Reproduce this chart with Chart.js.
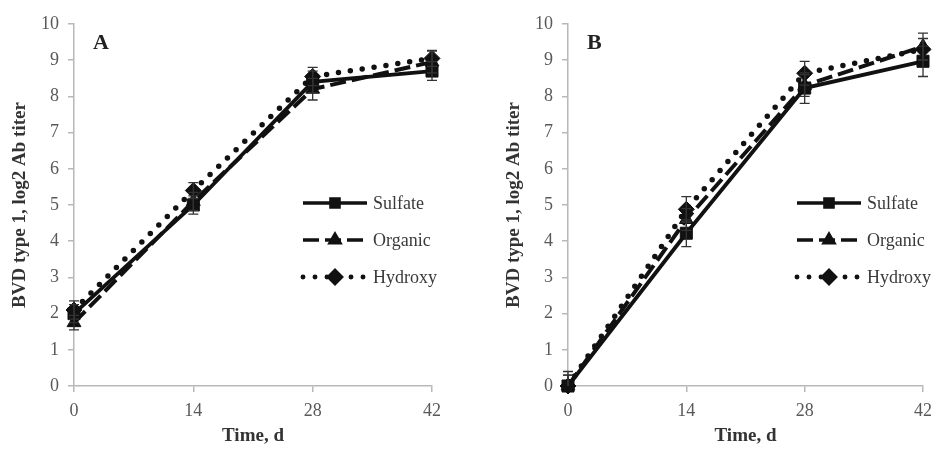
<!DOCTYPE html>
<html>
<head>
<meta charset="utf-8">
<script src="https://cdn.jsdelivr.net/npm/chart.js@4.4.1/dist/chart.umd.min.js"></script>
<style>
  html, body { margin: 0; padding: 0; background: #fff; }
  #wrap { width: 940px; height: 449px; display: flex; }
  .panel { width: 470px; height: 449px; position: relative; }
</style>
</head>
<body>
<div id="wrap">
  <div class="panel"><canvas id="chartA" width="470" height="449"></canvas></div>
  <div class="panel"><canvas id="chartB" width="470" height="449"></canvas></div>
</div>
<script>
// x categories (days) and y axis range
let days = [0, 14, 28, 42];
let yMin = 0;
let yMax = 10;

// Panel A
let sulfateA = [2.0, 5.0, 8.4, 8.7];
let sulfateErrA = [0.25, 0.25, 0.3, 0.26];
let organicA = [1.75, 5.1, 8.2, 8.95];
let organicErrA = [0.2, 0.25, 0.3, 0.3];
let hydroxyA = [2.1, 5.4, 8.55, 9.05];
let hydroxyErrA = [0.25, 0.22, 0.25, 0.22];

// Panel B
let sulfateB = [0, 4.22, 8.23, 8.97];
let sulfateErrB = [0.4, 0.37, 0.42, 0.42];
let organicB = [0, 4.6, 8.3, 9.38];
let organicErrB = [0.3, 0.3, 0.3, 0.37];
let hydroxyB = [0, 4.88, 8.64, 9.3];
let hydroxyErrB = [0.3, 0.35, 0.33, 0.3];

let seriesNames = ["Sulfate", "Organic", "Hydroxy"];

let serif = "'Liberation Serif', 'Times New Roman', serif";
let ink = "#111";
let tickColor = "#595959";
let axisColor = "#b8b8b8";

function toPoints(values) {
  let pts = [];
  for (let i = 0; i < days.length; i++) {
    pts.push({ x: days[i], y: values[i] });
  }
  return pts;
}

// draws the error bars from the dataset's err array
let errorBars = {
  id: "errorBars",
  afterDatasetsDraw(chart) {
    let ctx = chart.ctx;
    let area = chart.chartArea;
    let xs = chart.scales.x;
    let ys = chart.scales.y;
    ctx.save();
    ctx.beginPath();
    ctx.rect(area.left - 20, 0, area.right - area.left + 40, area.bottom);
    ctx.clip();
    ctx.strokeStyle = "#333";
    ctx.lineWidth = 1.3;
    chart.data.datasets.forEach((ds) => {
      ds.data.forEach((p, i) => {
        let e = ds.err[i];
        let px = xs.getPixelForValue(p.x);
        let top = ys.getPixelForValue(p.y + e);
        let bot = ys.getPixelForValue(p.y - e);
        ctx.beginPath();
        ctx.moveTo(px, top);
        ctx.lineTo(px, bot);
        ctx.moveTo(px - 5, top);
        ctx.lineTo(px + 5, top);
        ctx.moveTo(px - 5, bot);
        ctx.lineTo(px + 5, bot);
        ctx.stroke();
      });
    });
    ctx.restore();
  },
};

// legend inside the plot plus the panel letter
let innerLegend = {
  id: "innerLegend",
  afterDraw(chart) {
    let ctx = chart.ctx;
    let area = chart.chartArea;
    let x0 = area.left + 229;
    let len = 64;
    let rows = [179, 216, 253];
    ctx.save();
    chart.data.datasets.forEach((ds, i) => {
      let y = area.top + rows[i];
      ctx.strokeStyle = ink;
      ctx.lineWidth = ds.borderWidth * 0.9;
      ctx.lineCap = ds.borderCapStyle;
      ctx.setLineDash(ds.borderDash);
      ctx.beginPath();
      ctx.moveTo(x0, y);
      ctx.lineTo(x0 + len, y);
      ctx.stroke();
      ctx.setLineDash([]);
      Chart.helpers.drawPoint(ctx, {
        pointStyle: ds.pointStyle,
        radius: ds.pointRadius * 0.68,
        rotation: 0,
        borderWidth: 1,
      }, x0 + len / 2, y);
      ctx.fillStyle = ink;
      ctx.fill();
      ctx.fillStyle = "#3a3a3a";
      ctx.font = "18px " + serif;
      ctx.textAlign = "left";
      ctx.textBaseline = "middle";
      ctx.fillText(ds.label, x0 + len + 6, y + 1);
    });
    ctx.fillStyle = "#222";
    ctx.font = "bold 22px " + serif;
    ctx.textAlign = "left";
    ctx.textBaseline = "middle";
    ctx.fillText(chart.options.panelLetter, area.left + 19, 43);
    ctx.restore();
  },
};

function makeDataset(label, values, errs, style) {
  return Object.assign({
    label: label,
    data: toPoints(values),
    err: errs,
    clip: false,
    borderColor: ink,
    backgroundColor: ink,
    pointBackgroundColor: ink,
    pointBorderColor: ink,
    pointBorderWidth: 1,
    tension: 0,
  }, style);
}

function makeChart(id, letter, sulfate, sulfateErr, organic, organicErr, hydroxy, hydroxyErr, padLeft, padRight) {
  let config = {
    type: "line",
    data: {
      datasets: [
        makeDataset(seriesNames[0], sulfate, sulfateErr, {
          borderWidth: 3.8, borderDash: [], borderCapStyle: "butt",
          pointStyle: "rect", pointRadius: 8.5,
        }),
        makeDataset(seriesNames[1], organic, organicErr, {
          borderWidth: 4, borderDash: [16, 6], borderCapStyle: "butt",
          pointStyle: "triangle", pointRadius: 8,
        }),
        makeDataset(seriesNames[2], hydroxy, hydroxyErr, {
          borderWidth: 5.5, borderDash: [0, 12], borderCapStyle: "round",
          pointStyle: "rectRot", pointRadius: 8,
        }),
      ],
    },
    options: {
      panelLetter: letter,
      responsive: false,
      animation: false,
      events: [],
      layout: { padding: { left: padLeft, right: padRight, top: 24, bottom: 0 } },
      plugins: { legend: { display: false }, tooltip: { enabled: false } },
      scales: {
        x: {
          type: "linear",
          min: days[0],
          max: days[days.length - 1],
          afterFit: (s) => { s.height = 63; },
          afterBuildTicks: (s) => { s.ticks = days.map((d) => ({ value: d })); },
          ticks: { color: tickColor, font: { family: serif, size: 18 }, padding: 8 },
          grid: { drawOnChartArea: false, tickLength: 6, color: axisColor, lineWidth: 1.5 },
          border: { color: axisColor, width: 1.5 },
          title: {
            display: true, text: "Time, d", color: "#333",
            font: { family: serif, size: 19, weight: "bold" },
            padding: { top: 0, bottom: 2 },
          },
        },
        y: {
          min: yMin,
          max: yMax,
          afterFit: (s) => { s.width = 74; },
          ticks: { stepSize: 1, color: tickColor, font: { family: serif, size: 18 }, padding: 9 },
          grid: { drawOnChartArea: false, tickLength: 6, color: axisColor, lineWidth: 1.5 },
          border: { color: axisColor, width: 1.5 },
          title: {
            display: true, text: "BVD type 1, log2 Ab titer", color: "#333",
            font: { family: serif, size: 19, weight: "bold" },
            padding: { top: 9, bottom: 0 },
          },
        },
      },
    },
    plugins: [errorBars, innerLegend],
  };
  return new Chart(document.getElementById(id), config);
}

makeChart("chartA", "A", sulfateA, sulfateErrA, organicA, organicErrA, hydroxyA, hydroxyErrA, 0, 38);
makeChart("chartB", "B", sulfateB, sulfateErrB, organicB, organicErrB, hydroxyB, hydroxyErrB, 24, 14);
</script>
</body>
</html>
